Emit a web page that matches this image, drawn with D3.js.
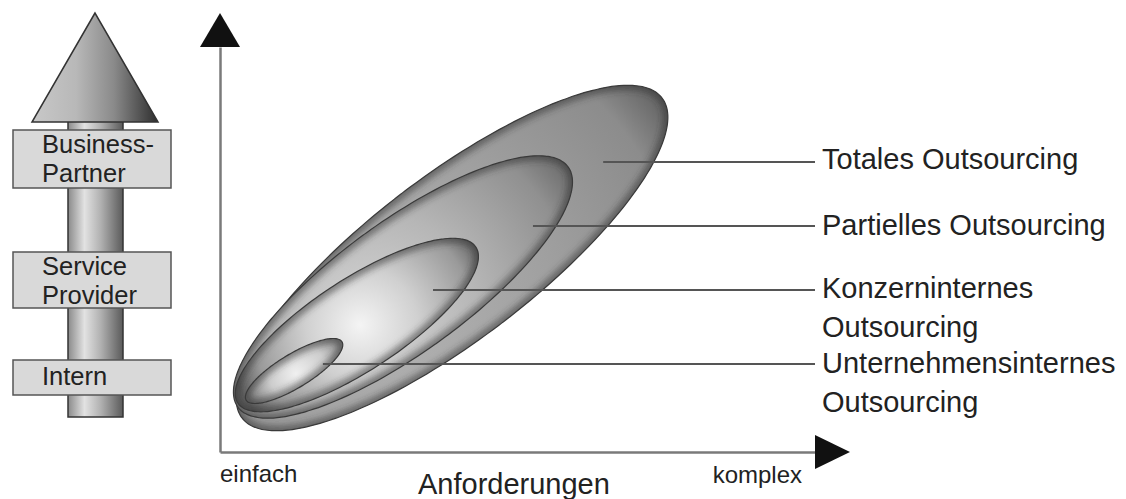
<!DOCTYPE html>
<html><head><meta charset="utf-8">
<script src="https://cdn.jsdelivr.net/npm/d3@7"></script>
<style>
html,body{margin:0;padding:0;background:#fff;}
svg{display:block;}
text{font-family:"Liberation Sans",Arial,sans-serif;fill:#222;}
</style></head>
<body>
<svg id="c" width="1126" height="499"></svg>
<script>
// ---- data ----
const stufen = [["Business-","Partner"],["Service","Provider"],["Intern"]];
const kategorien = ["Totales Outsourcing","Partielles Outsourcing","Konzerninternes Outsourcing","Unternehmensinternes Outsourcing"];
const labelZeilen = [["Totales Outsourcing"],["Partielles Outsourcing"],["Konzerninternes","Outsourcing"],["Unternehmensinternes","Outsourcing"]];
// ellipse extents in data units (Anforderungen 0..100, Leistungsumfang 0..100)
const startX = [3.7, 3.0, 3.0, 4.4];
const startY = [8.4, 11.1, 12.1, 12.8];
const endX   = [74.3, 58.5, 43.0, 20.5];
const endY   = [87.4, 70.4, 50.6, 27.2];
const breite = [0.31, 0.32, 0.32, 0.30];
// leader line anchors in data units
const ankerX = [64.4, 52.6, 35.8, 17.3];
const ankerY = [71.6, 55.8, 40.0, 21.7];
const achsenTicks = ["einfach","komplex"];
const achsenTitel = "Anforderungen";

// ---- drawing ----
const svg = d3.select("#c");
const defs = svg.append("defs");
const x = d3.scaleLinear().domain([0,100]).range([220,815]);
const y = d3.scaleLinear().domain([0,100]).range([452,47]);

// left panel gradients
const gShaft = defs.append("linearGradient").attr("id","shaft").attr("x1",0).attr("x2",1).attr("y1",0).attr("y2",0);
[[0,"#8a8a8a"],[0.3,"#e2e2e2"],[0.6,"#b0b0b0"],[1,"#5a5a5a"]].forEach(s=>gShaft.append("stop").attr("offset",s[0]).attr("stop-color",s[1]));
const gHead = defs.append("linearGradient").attr("id","head").attr("x1",0).attr("x2",1).attr("y1",0).attr("y2",0);
[[0,"#c8c8c8"],[0.35,"#b8b8b8"],[0.65,"#8a8a8a"],[1,"#2e2e2e"]].forEach(s=>gHead.append("stop").attr("offset",s[0]).attr("stop-color",s[1]));

const L = svg.append("g");
L.append("rect").attr("x",68).attr("y",118).attr("width",55).attr("height",299)
  .attr("fill","url(#shaft)").attr("stroke","#333").attr("stroke-width",1.5);
L.append("path").attr("d","M95,13 L32,122 L158,122 Z").attr("fill","url(#head)").attr("stroke","#333").attr("stroke-width",1.5);

const boxes = [{y:130,h:58},{y:252,h:56},{y:360,h:35}];
stufen.forEach((lines,i)=>{
  const b = boxes[i];
  L.append("rect").attr("x",13).attr("y",b.y).attr("width",158).attr("height",b.h)
    .attr("fill","#d9d9d9").attr("stroke","#555").attr("stroke-width",1.5);
  lines.forEach((t,j)=>{
    L.append("text").attr("x",42).attr("y",b.y + (lines.length===1?25:23) + j*29)
      .attr("font-size",25.5).text(t);
  });
});

// axes (no ticks) using d3 axes
svg.append("g").attr("transform",`translate(0,${y(0)})`)
  .call(d3.axisBottom(x).tickValues([]).tickSizeOuter(0))
  .call(g=>g.select(".domain").attr("stroke","#7a7a7a").attr("stroke-width",2.5));
svg.append("g").attr("transform",`translate(${x(0)},0)`)
  .call(d3.axisLeft(y).tickValues([]).tickSizeOuter(0))
  .call(g=>g.select(".domain").attr("stroke","#7a7a7a").attr("stroke-width",2.5));
// arrow heads
svg.append("path").attr("d",`M${x(0)},13 L${x(0)-20},${y(100)} L${x(0)+20},${y(100)} Z`).attr("fill","#111");
svg.append("path").attr("d",`M850,${y(0)} L${x(100)},${y(0)-17} L${x(100)},${y(0)+17} Z`).attr("fill","#111");

svg.append("text").attr("x",x(0)).attr("y",482).attr("font-size",24).text(achsenTicks[0]);
svg.append("text").attr("x",x(100)-13).attr("y",483).attr("font-size",24).attr("text-anchor","end").text(achsenTicks[1]);
svg.append("text").attr("x",418).attr("y",494).attr("font-size",29).text(achsenTitel);

// ellipse gradients
const grad = [
  {cx:430,cy:280,fx:370,fy:320,r:300,stops:[[0,"#b6b6b6"],[0.5,"#a0a0a0"],[0.85,"#8c8c8c"],[1,"#5e5e5e"]]},
  {cx:400,cy:300,fx:355,fy:330,r:230,stops:[[0,"#dadada"],[0.45,"#b6b6b6"],[0.8,"#909090"],[1,"#5c5c5c"]]},
  {cx:365,cy:325,fx:360,fy:325,r:140,stops:[[0,"#f4f4f4"],[0.4,"#d0d0d0"],[0.8,"#9a9a9a"],[1,"#5e5e5e"]]},
  {cx:300,cy:372,fx:296,fy:374,r:58,stops:[[0,"#f0f0f0"],[0.5,"#cdcdcd"],[1,"#7a7a7a"]]}
];
grad.forEach((g,i)=>{
  const rg = defs.append("radialGradient").attr("id","eg"+i).attr("gradientUnits","userSpaceOnUse")
    .attr("cx",g.cx).attr("cy",g.cy).attr("fx",g.fx).attr("fy",g.fy).attr("r",g.r);
  g.stops.forEach(s=>rg.append("stop").attr("offset",s[0]).attr("stop-color",s[1]));
});
defs.append("filter").attr("id","blur").attr("x","-20%").attr("y","-20%").attr("width","140%").attr("height","140%")
  .append("feGaussianBlur").attr("stdDeviation",3);

function ellipsePts(i){
  const ax=x(startX[i]), ay=y(startY[i]), bx=x(endX[i]), by=y(endY[i]);
  const cx=(ax+bx)/2, cy=(ay+by)/2;
  const dx=bx-ax, dy=by-ay, len=Math.hypot(dx,dy);
  const a=len/2, b=a*breite[i];
  const ux=dx/len, uy=dy/len, nx=-uy, ny=ux;
  return d3.range(0,360,2).map(d=>{
    const t=d*Math.PI/180;
    return [cx+a*Math.cos(t)*ux+b*Math.sin(t)*nx, cy+a*Math.cos(t)*uy+b*Math.sin(t)*ny];
  });
}
const line = d3.line().curve(d3.curveCardinalClosed);
const E = svg.append("g");
kategorien.forEach((k,i)=>{
  const d = line(ellipsePts(i));
  defs.append("clipPath").attr("id","cl"+i).append("path").attr("d",d);
  E.append("path").attr("d",d).attr("fill","url(#eg"+i+")");
  E.append("path").attr("d",d).attr("fill","none").attr("stroke","#333").attr("stroke-width",10)
    .attr("stroke-opacity",0.55).attr("filter","url(#blur)").attr("clip-path","url(#cl"+i+")");
  E.append("path").attr("d",d).attr("fill","none").attr("stroke","#3a3a3a").attr("stroke-width",1.2);
});

// leader lines and labels
const labelBase = [169, 235, 298, 373];
kategorien.forEach((k,i)=>{
  svg.append("line").attr("x1",x(ankerX[i])).attr("y1",y(ankerY[i])).attr("x2",x(100)).attr("y2",y(ankerY[i]))
    .attr("stroke","#555").attr("stroke-width",2);
  labelZeilen[i].forEach((t,j)=>{
    svg.append("text").attr("x",822).attr("y",labelBase[i]+j*39).attr("font-size",29).text(t);
  });
});
</script>
</body></html>
